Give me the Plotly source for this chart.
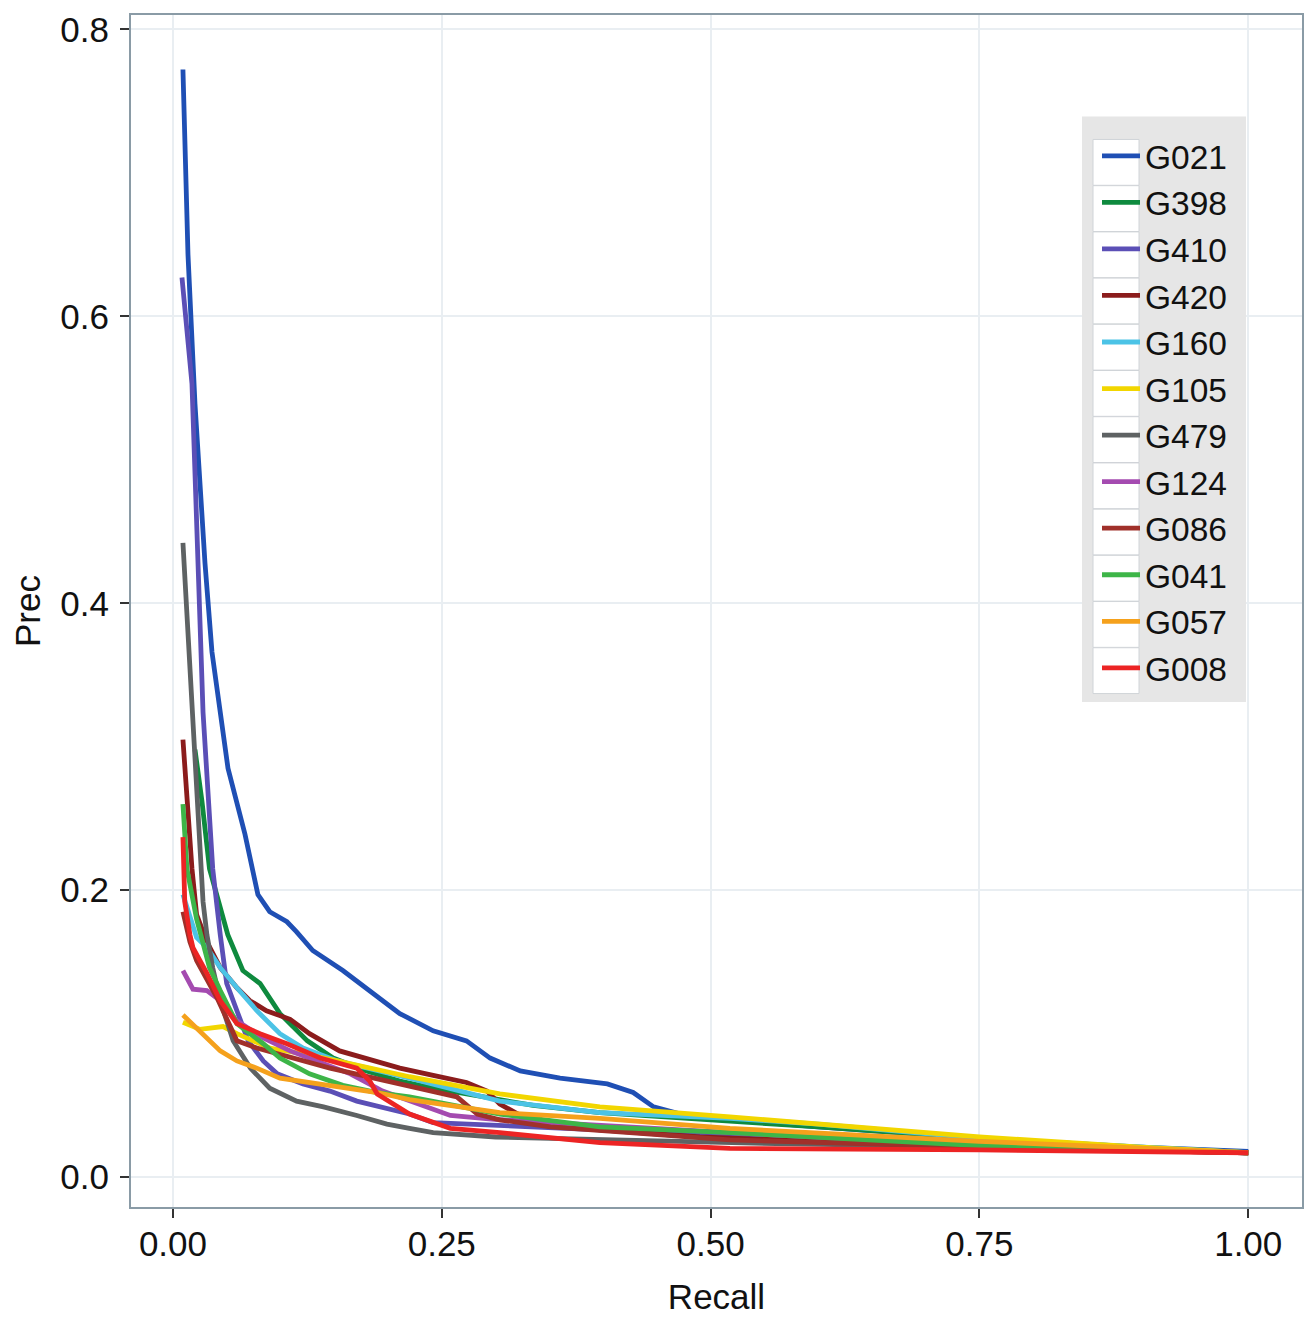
import plotly.graph_objects as go

# ---------------- data ----------------
series_names = ["G021", "G398", "G410", "G420", "G160", "G105",
                "G479", "G124", "G086", "G041", "G057", "G008"]
series_colors = ["#1f4fb4", "#0e8a3e", "#5b4fb6", "#8b1c1c", "#4cc3e6", "#f2d600",
                 "#5e6263", "#a44bb0", "#a0302a", "#3db548", "#f5a11c", "#ec2424"]

g021_recall = [0.0093, 0.014, 0.0205, 0.0298, 0.0363, 0.0437, 0.0512, 0.067, 0.0735, 0.079, 0.090,
               0.106, 0.115, 0.130, 0.158, 0.186, 0.211, 0.242, 0.273, 0.295, 0.323, 0.360, 0.404,
               0.428, 0.447, 0.472, 0.500, 0.600, 0.750, 0.900, 1.000]
g021_prec = [0.772, 0.643, 0.539, 0.428, 0.366, 0.324, 0.285, 0.239, 0.215, 0.197, 0.185,
             0.178, 0.171, 0.158, 0.144, 0.128, 0.114, 0.102, 0.095, 0.083, 0.074, 0.069, 0.065,
             0.059, 0.049, 0.044, 0.041, 0.035, 0.027, 0.021, 0.018]

g398_recall = [0.0205, 0.027, 0.034, 0.044, 0.051, 0.065, 0.081, 0.0995, 0.125, 0.149, 0.180,
               0.211, 0.242, 0.273, 0.335, 0.397, 0.460, 0.509, 0.600, 0.750, 0.900, 1.000]
g398_prec = [0.298, 0.262, 0.215, 0.187, 0.169, 0.144, 0.135, 0.114, 0.095, 0.083, 0.074,
             0.067, 0.062, 0.058, 0.050, 0.045, 0.042, 0.040, 0.035, 0.027, 0.020, 0.017]

g410_recall = [0.0084, 0.0177, 0.028, 0.0326, 0.037, 0.044, 0.050, 0.0595, 0.070, 0.084, 0.097,
               0.121, 0.146, 0.171, 0.195, 0.220, 0.242, 0.300, 0.400, 0.520, 0.750, 1.000]
g410_prec = [0.627, 0.553, 0.324, 0.262, 0.215, 0.169, 0.135, 0.116, 0.095, 0.081, 0.072,
             0.065, 0.060, 0.053, 0.049, 0.044, 0.038, 0.036, 0.033, 0.029, 0.023, 0.017]

g420_recall = [0.0093, 0.013, 0.0177, 0.022, 0.0316, 0.044, 0.0595, 0.0716, 0.087, 0.109, 0.127,
               0.155, 0.180, 0.211, 0.242, 0.273, 0.292, 0.304, 0.323, 0.351, 0.397, 0.490,
               0.750, 1.000]
g420_prec = [0.305, 0.262, 0.215, 0.183, 0.164, 0.146, 0.132, 0.123, 0.116, 0.110, 0.100,
             0.088, 0.083, 0.076, 0.071, 0.066, 0.060, 0.051, 0.043, 0.037, 0.033, 0.028,
             0.021, 0.017]

g160_recall = [0.0093, 0.022, 0.0316, 0.044, 0.0595, 0.078, 0.0995, 0.121, 0.153, 0.183, 0.220,
               0.304, 0.397, 0.518, 0.600, 0.750, 1.000]
g160_prec = [0.197, 0.167, 0.160, 0.146, 0.132, 0.116, 0.100, 0.090, 0.081, 0.076, 0.069,
             0.053, 0.045, 0.041, 0.037, 0.027, 0.017]

g105_recall = [0.0093, 0.0251, 0.0465, 0.0595, 0.090, 0.121, 0.153, 0.220, 0.304, 0.397, 0.518,
               0.600, 0.750, 0.900, 1.000]
g105_prec = [0.108, 0.103, 0.105, 0.100, 0.090, 0.086, 0.081, 0.070, 0.058, 0.049, 0.042,
             0.037, 0.028, 0.021, 0.017]

g479_recall = [0.0093, 0.0177, 0.022, 0.028, 0.0316, 0.037, 0.044, 0.056, 0.072, 0.090, 0.115,
               0.140, 0.171, 0.199, 0.220, 0.242, 0.300, 0.400, 0.520, 0.750, 1.000]
g479_prec = [0.442, 0.324, 0.262, 0.192, 0.169, 0.146, 0.123, 0.095, 0.076, 0.062, 0.053,
             0.049, 0.043, 0.037, 0.034, 0.031, 0.028, 0.026, 0.024, 0.021, 0.017]

g124_recall = [0.0093, 0.0186, 0.0316, 0.044, 0.0595, 0.084, 0.109, 0.134, 0.165, 0.195, 0.220,
               0.258, 0.304, 0.397, 0.518, 0.750, 1.000]
g124_prec = [0.144, 0.131, 0.130, 0.123, 0.109, 0.097, 0.088, 0.081, 0.072, 0.060, 0.053,
             0.043, 0.040, 0.036, 0.031, 0.022, 0.017]

g086_recall = [0.0093, 0.0158, 0.022, 0.0316, 0.041, 0.0595, 0.078, 0.146, 0.211, 0.264, 0.283,
               0.304, 0.351, 0.518, 0.750, 1.000]
g086_prec = [0.185, 0.164, 0.151, 0.137, 0.125, 0.095, 0.090, 0.076, 0.065, 0.056, 0.044,
             0.040, 0.035, 0.026, 0.021, 0.017]

g041_recall = [0.0093, 0.013, 0.022, 0.034, 0.044, 0.0595, 0.084, 0.0995, 0.127, 0.158, 0.190,
               0.220, 0.304, 0.397, 0.518, 0.750, 1.000]
g041_prec = [0.260, 0.215, 0.180, 0.146, 0.130, 0.107, 0.093, 0.083, 0.072, 0.064, 0.059,
             0.056, 0.044, 0.035, 0.031, 0.022, 0.017]

g057_recall = [0.0093, 0.028, 0.044, 0.0595, 0.078, 0.0995, 0.127, 0.158, 0.190, 0.220, 0.304,
               0.397, 0.518, 0.750, 1.000]
g057_prec = [0.113, 0.100, 0.088, 0.081, 0.076, 0.069, 0.066, 0.062, 0.059, 0.054, 0.045,
             0.041, 0.034, 0.025, 0.017]

g008_recall = [0.0093, 0.011, 0.0158, 0.0186, 0.0316, 0.044, 0.0595, 0.081, 0.106, 0.137, 0.171,
               0.183, 0.190, 0.208, 0.220, 0.258, 0.304, 0.397, 0.518, 0.750, 1.000]
g008_prec = [0.237, 0.192, 0.169, 0.160, 0.142, 0.123, 0.107, 0.100, 0.093, 0.083, 0.076,
             0.067, 0.058, 0.049, 0.044, 0.034, 0.031, 0.024, 0.020, 0.019, 0.017]

series_recall = [g021_recall, g398_recall, g410_recall, g420_recall, g160_recall, g105_recall,
                 g479_recall, g124_recall, g086_recall, g041_recall, g057_recall, g008_recall]
series_prec = [g021_prec, g398_prec, g410_prec, g420_prec, g160_prec, g105_prec,
               g479_prec, g124_prec, g086_prec, g041_prec, g057_prec, g008_prec]

x_tick_vals = [0.0, 0.25, 0.5, 0.75, 1.0]
x_tick_text = ["0.00", "0.25", "0.50", "0.75", "1.00"]
y_tick_vals = [0.0, 0.2, 0.4, 0.6, 0.8]
y_tick_text = ["0.0", "0.2", "0.4", "0.6", "0.8"]

# ---------------- figure ----------------
OFF = 8                      # page body margin in the browser
W, H = 1313 - OFF, 1318 - OFF
ML, MR, MT, MB = 131 - OFF, 11, 10 - OFF, 111
PW, PH = W - ML - MR, H - MT - MB


def px_x(px):
    return (px - OFF - ML) / PW


def px_y(py):
    return (OFF + H - MB - py) / PH


FONT = "Liberation Sans, Arial, Helvetica, sans-serif"

fig = go.Figure()
for name, color, xs, ys in zip(series_names, series_colors, series_recall, series_prec):
    fig.add_trace(go.Scatter(x=xs, y=ys, mode="lines", name=name,
                             line=dict(color=color, width=4.8)))

shapes = [dict(type="rect", xref="paper", yref="paper",
               x0=px_x(1082), x1=px_x(1246), y0=px_y(700), y1=px_y(112),
               fillcolor="#e6e6e6", line=dict(width=0), layer="above")]
for i in range(len(series_names)):
    cy = 158 + 46.4 * i
    shapes.append(dict(type="rect", xref="paper", yref="paper",
                       x0=px_x(1093), x1=px_x(1139), y0=px_y(cy + 23), y1=px_y(cy - 23),
                       fillcolor="white", line=dict(color="#d0d4d8", width=1), layer="above"))

fig.update_layout(
    width=W, height=H,
    margin=dict(l=ML, r=MR, t=MT, b=MB),
    paper_bgcolor="white", plot_bgcolor="white",
    font=dict(family=FONT, size=34, color="#111111"),
    showlegend=True,
    legend=dict(x=px_x(1097), y=px_y(123), xanchor="left", yanchor="top",
                bgcolor="rgba(0,0,0,0)", borderwidth=0,
                font=dict(family=FONT, size=33.5, color="#111111"),
                tracegroupgap=0, itemwidth=38),
    shapes=shapes,
    xaxis=dict(range=[-0.039, 1.050], tickvals=x_tick_vals, ticktext=x_tick_text,
               showgrid=True, gridcolor="#e9eef2", gridwidth=1.5, zeroline=False,
               showline=True, linecolor="#8a9ba6", linewidth=2, mirror=True,
               ticks="outside", ticklen=9, tickwidth=2, tickcolor="#333333",
               ticklabelstandoff=-4, ticklabeloverflow="allow",
               tickfont=dict(size=35, color="#111111"),
               title=dict(text="Recall", font=dict(size=35, color="#111111"), standoff=22)),
    yaxis=dict(range=[-0.0208, 0.81], tickvals=y_tick_vals, ticktext=y_tick_text,
               showgrid=True, gridcolor="#e9eef2", gridwidth=1.5, zeroline=False,
               showline=True, linecolor="#8a9ba6", linewidth=2, mirror=True,
               ticks="outside", ticklen=9, tickwidth=2, tickcolor="#333333",
               ticklabelstandoff=4, ticklabeloverflow="allow",
               tickfont=dict(size=35, color="#111111"),
               title=dict(text="Prec", font=dict(size=35, color="#111111"), standoff=10)),
)

fig.write_html("out.html")
